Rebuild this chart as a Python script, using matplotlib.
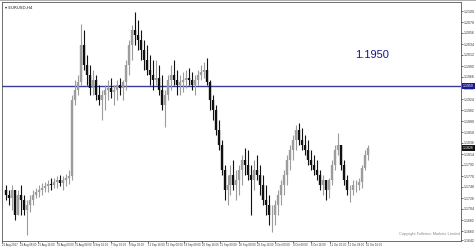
import matplotlib
matplotlib.use("Agg")
import matplotlib.pyplot as plt
import numpy as np

# ---- data (EURUSD, H4) ----
highs = [1.1752, 1.1742, 1.1752, 1.1732, 1.1742, 1.1752, 1.1732, 1.1722, 1.1732, 1.1742,
         1.1746, 1.1752, 1.1756, 1.1758, 1.1762, 1.1766, 1.1766, 1.1770, 1.1772, 1.1770,
         1.1774, 1.1782, 1.1932, 1.1962, 1.1972, 1.2074, 1.2062, 1.2012, 1.1992, 1.1982,
         1.1972, 1.1952, 1.1942, 1.1952, 1.1962, 1.1966, 1.1952, 1.1962, 1.1966, 1.1962,
         1.2002, 1.2042, 1.2072, 1.2098, 1.2082, 1.2062, 1.2042, 1.2032, 1.2012, 1.2002,
         1.2002, 1.1992, 1.1972, 1.1942, 1.1972, 1.1992, 1.2002, 1.1982, 1.1972, 1.1978,
         1.1982, 1.1986, 1.1978, 1.1972, 1.1982, 1.1992, 1.1998, 1.2006, 1.1962, 1.1932,
         1.1912, 1.1882, 1.1842, 1.1792, 1.1772, 1.1792, 1.1802, 1.1782, 1.1792, 1.1812,
         1.1826, 1.1822, 1.1792, 1.1802, 1.1812, 1.1792, 1.1772, 1.1752, 1.1732, 1.1712,
         1.1722, 1.1742, 1.1762, 1.1782, 1.1812, 1.1832, 1.1852, 1.1872, 1.1876, 1.1866,
         1.1852, 1.1842, 1.1822, 1.1812, 1.1802, 1.1782, 1.1772, 1.1762, 1.1766, 1.1802,
         1.1832, 1.1856, 1.1832, 1.1802, 1.1772, 1.1752, 1.1762, 1.1762, 1.1766, 1.1792,
         1.1822, 1.1832]
lows = [1.1722, 1.1712, 1.1702, 1.1682, 1.1692, 1.1692, 1.1692, 1.1652, 1.1698, 1.1712,
        1.1726, 1.1728, 1.1732, 1.1738, 1.1738, 1.1742, 1.1746, 1.1746, 1.1750, 1.1742,
        1.1750, 1.1754, 1.1762, 1.1912, 1.1932, 1.1952, 1.1982, 1.1952, 1.1932, 1.1932,
        1.1922, 1.1912, 1.1882, 1.1902, 1.1922, 1.1926, 1.1912, 1.1922, 1.1932, 1.1922,
        1.1942, 1.1972, 1.2002, 1.2032, 1.2022, 1.2002, 1.1982, 1.1972, 1.1952, 1.1942,
        1.1952, 1.1932, 1.1902, 1.1868, 1.1922, 1.1942, 1.1952, 1.1932, 1.1932, 1.1938,
        1.1946, 1.1952, 1.1942, 1.1932, 1.1952, 1.1962, 1.1966, 1.1952, 1.1902, 1.1882,
        1.1852, 1.1822, 1.1772, 1.1722, 1.1712, 1.1732, 1.1742, 1.1722, 1.1732, 1.1752,
        1.1772, 1.1762, 1.1692, 1.1742, 1.1762, 1.1732, 1.1712, 1.1692, 1.1672, 1.1658,
        1.1672, 1.1692, 1.1712, 1.1732, 1.1752, 1.1782, 1.1802, 1.1822, 1.1832, 1.1822,
        1.1812, 1.1792, 1.1782, 1.1772, 1.1762, 1.1742, 1.1732, 1.1722, 1.1726, 1.1752,
        1.1782, 1.1812, 1.1782, 1.1752, 1.1732, 1.1718, 1.1732, 1.1738, 1.1742, 1.1746,
        1.1782, 1.1802]
closes = [1.1732, 1.1726, 1.1742, 1.1692, 1.1732, 1.1722, 1.1702, 1.1712, 1.1722, 1.1732,
          1.1738, 1.1742, 1.1746, 1.1750, 1.1754, 1.1752, 1.1758, 1.1762, 1.1756, 1.1762,
          1.1766, 1.1770, 1.1922, 1.1942, 1.1958, 1.2032, 1.1992, 1.1972, 1.1946, 1.1962,
          1.1932, 1.1922, 1.1932, 1.1942, 1.1946, 1.1938, 1.1942, 1.1952, 1.1946, 1.1958,
          1.1992, 1.2032, 1.2062, 1.2052, 1.2042, 1.2022, 1.2002, 1.1982, 1.1972, 1.1962,
          1.1966, 1.1942, 1.1912, 1.1932, 1.1962, 1.1972, 1.1962, 1.1952, 1.1958, 1.1962,
          1.1966, 1.1962, 1.1952, 1.1962, 1.1972, 1.1978, 1.1982, 1.1958, 1.1922, 1.1902,
          1.1862, 1.1832, 1.1782, 1.1742, 1.1752, 1.1772, 1.1752, 1.1762, 1.1782, 1.1802,
          1.1792, 1.1772, 1.1762, 1.1782, 1.1772, 1.1752, 1.1722, 1.1712, 1.1692, 1.1692,
          1.1712, 1.1732, 1.1752, 1.1772, 1.1802, 1.1822, 1.1842, 1.1862, 1.1842, 1.1832,
          1.1822, 1.1802, 1.1792, 1.1782, 1.1772, 1.1752, 1.1762, 1.1742, 1.1762, 1.1792,
          1.1822, 1.1832, 1.1792, 1.1762, 1.1742, 1.1742, 1.1752, 1.1752, 1.1758, 1.1786,
          1.1812, 1.1826]
first_open = 1.1742

level = 1.1950
price_ticks = [1.2100, 1.2078, 1.2056, 1.2034, 1.2012, 1.1990, 1.1968, 1.1946, 1.1924,
               1.1902, 1.1880, 1.1858, 1.1836, 1.1814, 1.1792, 1.1770, 1.1748, 1.1726,
               1.1704, 1.1682, 1.1660, 1.1642]
date_labels = ["21 Aug 2017", "23 Aug 08:00", "25 Aug 16:00", "30 Aug 00:00", "31 Aug 08:00",
               "4 Sep 16:00", "7 Sep 00:00", "8 Sep 08:00", "12 Sep 16:00", "15 Sep 00:00",
               "18 Sep 08:00", "20 Sep 16:00", "25 Sep 00:00", "26 Sep 08:00", "28 Sep 16:00",
               "3 Oct 00:00", "4 Oct 08:00", "6 Oct 16:00", "11 Oct 00:00", "12 Oct 08:00",
               "16 Oct 16:00"]

title = "EURUSD,H4"
copyright_text = "Copyright Fullerton Markets Limited"

# ---- figure ----
W, H = 476, 248
fig = plt.figure(figsize=(W / 100, H / 100), dpi=100)
fig.patch.set_facecolor("white")
ax = fig.add_axes([2 / W, 7 / H, 459 / W, 239 / H])

highs = np.array(highs)
lows = np.array(lows)
closes = np.array(closes)
opens = np.concatenate([[first_open], closes[:-1]])
n = len(closes)
x = np.arange(n)
up = closes >= opens

up_col = "#9c9c9c"
dn_col = "#111111"
ax.vlines(x[up], lows[up], highs[up], color=up_col, lw=0.8)
ax.vlines(x[~up], lows[~up], highs[~up], color=dn_col, lw=0.8)
bt = np.maximum(opens, closes)
bb = np.minimum(opens, closes)
ax.vlines(x[up], bb[up], bt[up], color=up_col, lw=1.7)
ax.vlines(x[~up], bb[~up], bt[~up], color=dn_col, lw=1.7)

ax.axhline(level, color="#3a3aa0", lw=1.0, zorder=1)
ax.text(0.807, 0.78, f"{level:.4f}", transform=ax.transAxes, ha="center", va="center",
        color="#161690", fontsize=8, family="Liberation Sans")

ax.set_xlim(-1, 152.0)
ax.set_ylim(1.1640, 1.2118)

# right price axis
ax.yaxis.tick_right()
ax.set_yticks(price_ticks)
ax.set_yticklabels([f"{v:.4f}" for v in price_ticks], family="Liberation Sans")
ax.tick_params(axis="y", labelsize=2.5, length=1.5, width=0.5, pad=0.6,
               colors="#333333", direction="out")

# bottom time axis
date_pos = -1.33 + np.arange(len(date_labels)) * 6.08
ax.set_xticks(date_pos)
ax.set_xticklabels(date_labels, ha="left", family="Liberation Sans")
ax.tick_params(axis="x", labelsize=2.0, length=1.2, width=0.5, pad=0.5,
               colors="#333333", direction="out")

for s in ax.spines.values():
    s.set_color("#555555")
    s.set_linewidth(0.6)

# highlighted price boxes on the axis
for val, fc in [(level, "#1c1c8c"), (closes[-1], "#111111")]:
    ax.annotate(f"{val:.4f}", xy=(1, val), xycoords=("axes fraction", "data"),
                xytext=(1.4, 0), textcoords="offset points", ha="left", va="center",
                fontsize=2.5, color="white", family="Liberation Sans",
                bbox=dict(boxstyle="square,pad=0.3", fc=fc, ec="none"),
                annotation_clip=False, zorder=10)

# title and copyright
ax.text(0.006, 0.975, "\u25be " + title, transform=ax.transAxes, ha="left", va="center",
        fontsize=3.0, color="#222222", family="DejaVu Sans")
ax.text(0.997, 0.02, copyright_text, transform=ax.transAxes, ha="right", va="bottom",
        fontsize=2.8, color="#8a8a8a", family="Liberation Sans")

# outer window border
fig.add_artist(plt.Line2D([0, 1], [0.998, 0.998], transform=fig.transFigure,
                          color="#a0a0a0", lw=1.2))

fig.savefig("out.png", dpi=100, facecolor="white")
